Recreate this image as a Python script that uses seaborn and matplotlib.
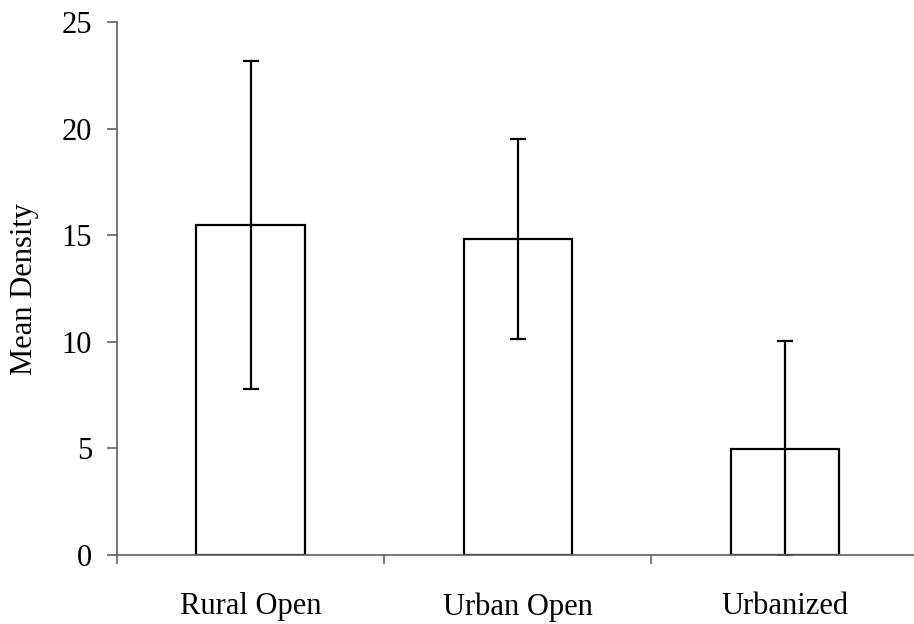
import matplotlib.pyplot as plt
import pandas as pd
import seaborn as sns

categories = ["Rural Open", "Urban Open", "Urbanized"]
mean_density = [15.5, 14.84, 4.98]
err_low = [7.8, 10.15, -0.05]
err_high = [23.2, 19.54, 10.05]

df = pd.DataFrame({"habitat": categories, "density": mean_density})

sns.set_style("ticks")
plt.rcParams["font.family"] = ["Liberation Serif", "DejaVu Serif"]
plt.rcParams["text.color"] = "black"
plt.rcParams["xtick.labelcolor"] = "black"
plt.rcParams["ytick.labelcolor"] = "black"
plt.rcParams["axes.labelcolor"] = "black"

fig = plt.figure(figsize=(9.14, 6.24), dpi=100)
ax = fig.add_axes([0.128, 0.1106, 0.877, 0.8535])

sns.barplot(
    data=df,
    x="habitat",
    y="density",
    width=0.405,
    fill=False,
    edgecolor="black",
    linewidth=1.6,
    errorbar=None,
    ax=ax,
)

# bornes des barres d'erreur
lower = [m - lo for m, lo in zip(mean_density, err_low)]
upper = [hi - m for m, hi in zip(mean_density, err_high)]
ax.errorbar(
    range(len(categories)),
    mean_density,
    yerr=[lower, upper],
    fmt="none",
    ecolor="black",
    elinewidth=1.6,
    capsize=5.5,
    capthick=1.6,
)

ax.set_xlim(-0.5, 2.5)
ax.set_ylim(0, 25)
ax.set_yticks([0, 5, 10, 15, 20, 25])
ax.set_xticks([0, 1, 2])
ax.set_xticklabels(categories)
ax.set_xticks([-0.5, 0.5, 1.5, 2.5], minor=True)

grey = "#606060"
for side in ["top", "right"]:
    ax.spines[side].set_visible(False)
for side in ["left", "bottom"]:
    ax.spines[side].set_color(grey)
    ax.spines[side].set_linewidth(1.2)

ax.tick_params(axis="x", which="major", bottom=True, length=0, pad=27, labelsize=22)
ax.tick_params(axis="x", which="minor", bottom=True, length=6.5, width=1.2,
               color=grey, direction="out")
ax.tick_params(axis="y", left=True, length=7, width=1.2, color=grey,
               direction="out", pad=11, labelsize=22)

ax.set_xlabel("")
ax.set_ylabel("Mean Density", fontsize=22, labelpad=16)

fig.savefig("out.png", dpi=100)
